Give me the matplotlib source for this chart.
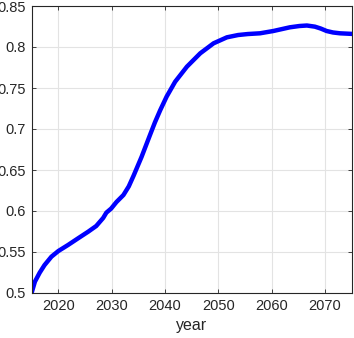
import matplotlib
matplotlib.use("Agg")
import matplotlib.pyplot as plt

years = [2015, 2015.6, 2016.5, 2017.4, 2018.7, 2020, 2021.8, 2023.7, 2025.6, 2027.1,
         2028.4, 2029, 2029.9, 2030.9, 2032.2, 2033.2, 2034.1, 2035.6, 2037.2, 2038.1,
         2039.1, 2040.3, 2041.9, 2044.1, 2046.6, 2049.1, 2051.6, 2053.7, 2055.5,
         2057.8, 2060.3, 2063.4, 2065.2, 2066.6, 2068.1, 2069.2, 2070.3, 2071.5,
         2072.8, 2075]
values = [0.5005, 0.5138, 0.5248, 0.534, 0.5443, 0.5512, 0.5585, 0.5667, 0.5748, 0.5817,
          0.5915, 0.598, 0.603, 0.611, 0.6195, 0.630, 0.643, 0.666, 0.693, 0.708,
          0.723, 0.7395, 0.7577, 0.776, 0.7923, 0.8045, 0.8118, 0.8146, 0.8158,
          0.8167, 0.8195, 0.824, 0.8256, 0.8262, 0.8248, 0.8225, 0.8195, 0.8177,
          0.8167, 0.816]
xticks = [2020, 2030, 2040, 2050, 2060, 2070]
yticks = [0.5, 0.55, 0.6, 0.65, 0.7, 0.75, 0.8, 0.85]
ytick_labels = ["0.5", "0.55", "0.6", "0.65", "0.7", "0.75", "0.8", "0.85"]

plt.rcParams['font.family'] = ['Liberation Sans', 'DejaVu Sans']

fig = plt.figure(figsize=(3.54, 3.38), dpi=100)
ax = fig.add_axes([31.7/354, 45/338, 320/354, 287/338])
ax.plot(years, values, color=(0, 0, 1), lw=3.2, solid_joinstyle='round')
ax.set_xlim(2015, 2075)
ax.set_ylim(0.5, 0.85)
ax.set_xticks(xticks)
ax.set_yticks(yticks)
ax.set_yticklabels(ytick_labels)
ax.grid(True, color='#e3e3e3', lw=0.8)
ax.set_axisbelow(True)
for s in ax.spines.values():
    s.set_color('#262626')
    s.set_linewidth(0.8)
ax.tick_params(direction='in', length=3, width=0.6, colors='#262626',
               labelsize=10.5, top=True, right=True, pad=4)
ax.set_xlabel('year', fontsize=11.5, color='#262626', labelpad=4)
fig.savefig('out.png', dpi=100)
